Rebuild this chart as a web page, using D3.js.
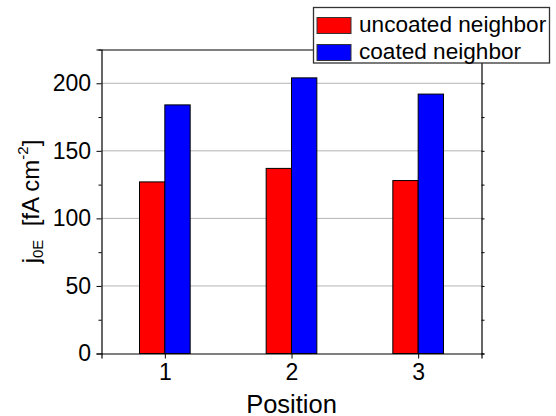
<!DOCTYPE html>
<html>
<head>
<meta charset="utf-8">
<script src="https://cdn.jsdelivr.net/npm/d3@7"></script>
<style>
  body { margin: 0; background: #fff; }
  text { font-family: Arial, "Liberation Sans", sans-serif; fill: #000; }
</style>
</head>
<body>
<div id="chart-area"></div>
<script>
const MARGIN = { LEFT: 101.5, RIGHT: 74.5, TOP: 49.5, BOTTOM: 62.5 }
const WIDTH = 556 - MARGIN.LEFT - MARGIN.RIGHT
const HEIGHT = 416 - MARGIN.TOP - MARGIN.BOTTOM
const FONT = "Arial, 'Liberation Sans', sans-serif"

// data
const positions = [1, 2, 3]
const uncoated = [127, 137, 128]
const coated = [184, 204, 192]
const seriesNames = ["uncoated neighbor", "coated neighbor"]
const seriesColors = ["#ff0000", "#0000ff"]
const yTicks = [0, 50, 100, 150, 200]
const yMinor = [25, 75, 125, 175, 225]

const svg = d3.select("#chart-area").append("svg")
  .attr("width", 556)
  .attr("height", 416)

const g = svg.append("g")
  .attr("transform", `translate(${MARGIN.LEFT}, ${MARGIN.TOP})`)

const x = d3.scaleLinear()
  .domain([0.5, 3.5])
  .range([0, WIDTH])

const y = d3.scaleLinear()
  .domain([0, 225])
  .range([HEIGHT, 0])

const barW = 0.2

// grid lines
g.append("g").selectAll("line")
  .data(yTicks.filter(d => d > 0))
  .enter().append("line")
  .attr("x1", 0).attr("x2", WIDTH)
  .attr("y1", d => y(d)).attr("y2", d => y(d))
  .attr("stroke", "#b4b4b4")
  .attr("stroke-width", 1)

// bars
const rows = positions.map((p, i) => ({ p: p, vals: [uncoated[i], coated[i]] }))
rows.forEach(r => {
  r.vals.forEach((v, k) => {
    g.append("rect")
      .attr("x", x(r.p - barW + k * barW))
      .attr("width", x(barW) - x(0))
      .attr("y", y(v))
      .attr("height", HEIGHT - y(v))
      .attr("fill", seriesColors[k])
      .attr("stroke", "#000")
      .attr("stroke-width", 1)
  })
})

// axes
const leftAxis = g.append("g")
  .call(d3.axisLeft(y).tickValues(yTicks).tickSize(5).tickPadding(5.5))
leftAxis.selectAll("text").attr("font-size", "23px").attr("font-family", FONT)

g.append("g")
  .call(d3.axisLeft(y).tickValues(yMinor).tickSize(3).tickFormat(""))
  .select(".domain").remove()

g.append("g")
  .attr("transform", `translate(${WIDTH}, 0)`)
  .call(d3.axisRight(y).tickValues(yTicks).tickSize(3).tickFormat(""))
g.append("g")
  .attr("transform", `translate(${WIDTH}, 0)`)
  .call(d3.axisRight(y).tickValues(yMinor).tickSize(3).tickFormat(""))
  .select(".domain").remove()

const bottomAxis = g.append("g")
  .attr("transform", `translate(0, ${HEIGHT})`)
  .call(d3.axisBottom(x).tickValues(positions).tickSize(5).tickPadding(5.5).tickFormat(d3.format("d")))
bottomAxis.selectAll("text").attr("font-size", "23px").attr("font-family", FONT)

g.append("g")
  .call(d3.axisTop(x).tickValues([]).tickSizeOuter(0))

g.selectAll(".domain").attr("stroke", "#000").attr("stroke-width", 1.2)
g.selectAll(".tick line").attr("stroke", "#000")

// X label
g.append("text")
  .attr("x", WIDTH / 2)
  .attr("y", HEIGHT + 59)
  .attr("font-size", "25.5px")
  .attr("text-anchor", "middle")
  .text("Position")

// Y label
const yLabel = g.append("text")
  .attr("transform", `translate(${39 - MARGIN.LEFT}, ${HEIGHT / 2}) rotate(-90)`)
  .attr("font-size", "24px")
  .attr("text-anchor", "middle")
yLabel.append("tspan").text("j")
yLabel.append("tspan").attr("font-size", "15px").attr("dy", 4).text("0E")
yLabel.append("tspan").attr("dy", -4).text("\u00a0 [fA cm")
yLabel.append("tspan").attr("font-size", "15px").attr("dy", -11).text("-2")
yLabel.append("tspan").attr("dy", 11).text("]")

// legend
const legend = svg.append("g")
legend.append("rect")
  .attr("x", 313.5).attr("y", 7.5)
  .attr("width", 236).attr("height", 55.5)
  .attr("fill", "#fff")
  .attr("stroke", "#333")
  .attr("stroke-width", 1.3)

seriesNames.forEach((name, i) => {
  const row = legend.append("g")
    .attr("transform", `translate(317, ${17.5 + i * 27})`)
  row.append("rect")
    .attr("width", 34)
    .attr("height", 16)
    .attr("fill", seriesColors[i])
    .attr("stroke", "#333")
  row.append("text")
    .attr("x", 42)
    .attr("y", 14)
    .attr("font-size", "22.6px")
    .text(name)
})
</script>
</body>
</html>
